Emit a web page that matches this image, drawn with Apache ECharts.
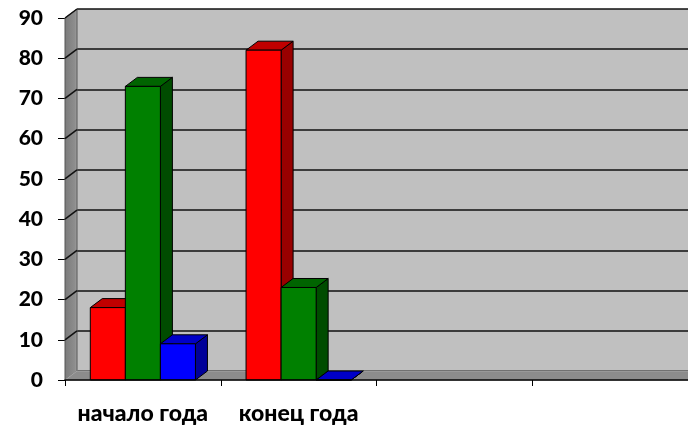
<!DOCTYPE html>
<html>
<head>
<meta charset="utf-8">
<script src="https://cdn.jsdelivr.net/npm/echarts@6/dist/echarts.min.js"></script>
<style>
  html, body { margin: 0; padding: 0; background: #fff; }
  #chart { width: 688px; height: 428px; }
</style>
</head>
<body>
<div id="chart"></div>
<script>
  // categories (the last two are empty slots on the axis)
  const categories = ['начало года', 'конец года', '', '']
  const redValues = [18, 82]
  const greenValues = [73, 23]
  const blueValues = [9, 0]
  const yTicks = [0, 10, 20, 30, 40, 50, 60, 70, 80, 90]

  // 3d depth of the floor, walls and boxes
  const DX = 12
  const DY = -9
  const font = 'Lato, "Noto Sans", sans-serif'

  const seriesColors = [
    { front: '#ff0000', top: '#c00000', side: '#990000' },
    { front: '#008000', top: '#006400', side: '#004c00' },
    { front: '#0000ff', top: '#0000c8', side: '#000099' }
  ]

  const chart = echarts.init(document.getElementById('chart'))

  function boxSeries (values, idx) {
    const c = seriesColors[idx]
    return {
      type: 'custom',
      xAxisIndex: 0,
      yAxisIndex: 0,
      z: 10 + idx,
      data: values.map((v, i) => [i, v]),
      renderItem (params, api) {
        const cat = api.value(0)
        const base = api.coord([cat, 0])
        const top = api.coord([cat, api.value(1)])[1]
        const bw = api.size([1, 0])[0] * 0.225
        const x0 = base[0] - 1.5 * bw + idx * bw
        const x1 = x0 + bw
        const y0 = base[1]
        const line = { stroke: '#000', lineWidth: 1 }
        return {
          type: 'group',
          children: [
            {
              type: 'polygon',
              shape: { points: [[x1, top], [x1 + DX, top + DY], [x1 + DX, y0 + DY], [x1, y0]] },
              style: Object.assign({ fill: c.side }, line)
            },
            {
              type: 'polygon',
              shape: { points: [[x0, top], [x0 + DX, top + DY], [x1 + DX, top + DY], [x1, top]] },
              style: Object.assign({ fill: c.top }, line)
            },
            {
              type: 'rect',
              shape: { x: x0, y: top, width: bw, height: y0 - top },
              style: Object.assign({ fill: c.front }, line)
            }
          ]
        }
      }
    }
  }

  const option = {
    animation: false,
    backgroundColor: '#ffffff',
    grid: [
      { left: 65, right: 0, top: 18, bottom: 48 },
      { left: 65 + DX, right: 0, top: 18 + DY, bottom: 48 - DY, show: true, backgroundColor: '#c0c0c0', borderWidth: 0 }
    ],
    xAxis: [
      {
        type: 'category',
        gridIndex: 0,
        data: categories,
        axisLine: { lineStyle: { color: '#000', width: 1.5 } },
        axisTick: { show: true, interval: 0, length: 6, lineStyle: { color: '#000' } },
        axisLabel: { interval: 0, margin: 22, color: '#000', fontFamily: font, fontWeight: 900, fontSize: 23 },
        z: 20
      },
      { type: 'category', gridIndex: 1, data: categories, show: false }
    ],
    yAxis: [
      {
        type: 'value',
        gridIndex: 0,
        min: 0,
        max: 90,
        interval: 10,
        axisLine: { show: true, lineStyle: { color: '#000', width: 1 } },
        axisTick: { show: true, length: 7, lineStyle: { color: '#000' } },
        axisLabel: {
          margin: 22,
          color: '#000',
          fontFamily: font,
          fontWeight: 900,
          fontSize: 21,
          formatter: v => (yTicks.includes(v) ? String(v) : '')
        },
        splitLine: { show: false }
      },
      {
        type: 'value',
        gridIndex: 1,
        min: 0,
        max: 90,
        interval: 10,
        axisLine: { show: false },
        axisTick: { show: false },
        axisLabel: { show: false },
        splitLine: { show: true, lineStyle: { color: '#111', width: 1.5 } }
      }
    ],
    series: [
      {
        // left wall and floor, with the grid lines running across the wall
        type: 'custom',
        xAxisIndex: 0,
        yAxisIndex: 0,
        z: 5,
        data: [[0, 0]],
        renderItem (params, api) {
          const cs = params.coordSys
          const x = cs.x
          const y = cs.y
          const w = cs.width
          const h = cs.height
          const children = [
            {
              type: 'polygon',
              shape: { points: [[x, y], [x + DX, y + DY], [x + DX, y + h + DY], [x, y + h]] },
              style: {
                fill: new echarts.graphic.LinearGradient(0, 0, 1, 0, [
                  { offset: 0, color: '#7a7a7a' },
                  { offset: 0.8, color: '#8e8e8e' },
                  { offset: 1, color: '#a8a8a8' }
                ]),
                stroke: '#555',
                lineWidth: 1
              }
            },
            {
              type: 'polygon',
              shape: { points: [[x, y + h], [x + DX, y + h + DY], [x + w + DX, y + h + DY], [x + w, y + h]] },
              style: { fill: '#8c8c8c', stroke: '#a6a6a6', lineWidth: 1 }
            }
          ]
          yTicks.forEach(v => {
            if (v === 0) return
            const yy = api.coord([0, v])[1]
            children.push({
              type: 'line',
              shape: { x1: x, y1: yy, x2: x + DX, y2: yy + DY },
              style: { stroke: '#111', lineWidth: 1.5 }
            })
          })
          return { type: 'group', children: children }
        }
      },
      boxSeries(redValues, 0),
      boxSeries(greenValues, 1),
      boxSeries(blueValues, 2)
    ]
  }

  chart.setOption(option)
</script>
</body>
</html>
